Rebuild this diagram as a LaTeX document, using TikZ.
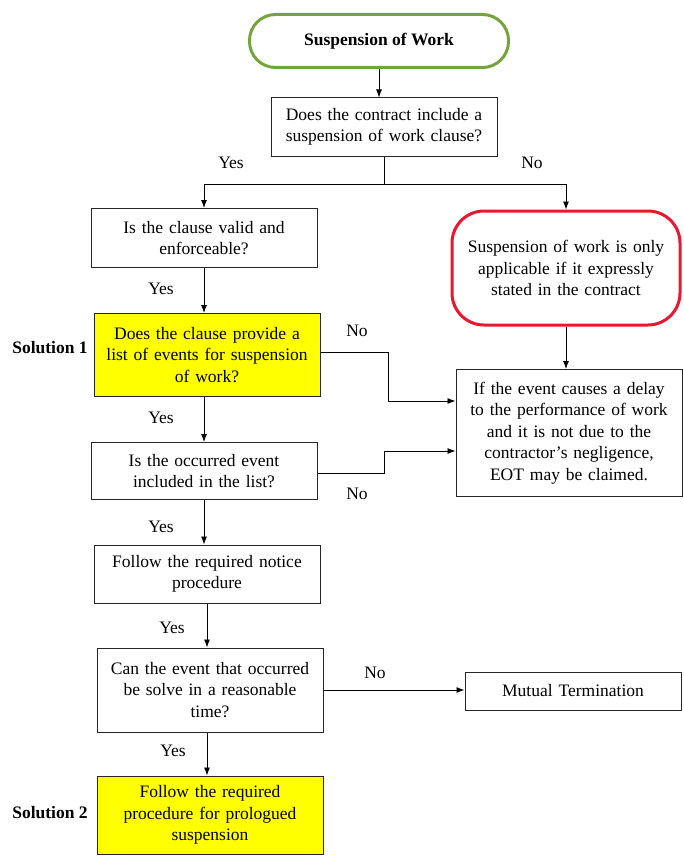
\documentclass[tikz,border=0pt]{standalone}
\usepackage{fontspec}
\setmainfont{Liberation Serif}
\usetikzlibrary{arrows.meta}

\definecolor{startgreen}{RGB}{118,163,60}
\definecolor{notered}{RGB}{232,24,48}
\definecolor{solyellow}{RGB}{255,255,0}

\tikzset{
  txt/.style={font=\fontsize{17.5}{21.5}\selectfont},
  procbox/.style={txt, draw=black!85, line width=1pt, align=center,
    text width=212pt, inner xsep=7pt, inner ysep=2pt, minimum height=#1},
  procbox/.default=58pt,
  solbox/.style={procbox=#1, fill=solyellow},
  startbox/.style={txt, font=\fontsize{17.5}{21.5}\selectfont\bfseries, draw=startgreen,
    line width=3pt, rounded corners=26pt, minimum width=259pt, minimum height=53pt},
  notebox/.style={txt, draw=notered, line width=3pt, rounded corners=32pt, align=center,
    text width=214pt, inner xsep=7pt, minimum height=114pt},
  lbl/.style={txt},
  sollbl/.style={txt, font=\fontsize{17.5}{21.5}\selectfont\bfseries},
  arr/.style={line width=0.9pt, -{Latex[length=8pt,width=6pt]}},
  ln/.style={line width=0.9pt}
}

\begin{document}
\begin{tikzpicture}[x=1pt,y=-1pt]
  \useasboundingbox (0,0) rectangle (683,856);

  % boxes
  \node[startbox] (start) at (379,41) {Suspension of Work};
  \node[procbox] (hasclause) at (384,127) {Does the contract include a\\suspension of work clause?};
  \node[procbox=59pt] (valid) at (204,238) {Is the clause valid and\\enforceable?};
  \node[notebox] (express) at (566,268) {Suspension of work is only\\applicable if it expressly\\stated in the contract};
  \node[solbox=83pt] (listev) at (207,355) {Does the clause provide a\\list of events for suspension\\of work?};
  \node[procbox=127pt] (eot) at (569,433) {If the event causes a delay\\to the performance of work\\and it is not due to the\\contractor's negligence,\\EOT may be claimed.};
  \node[procbox=57pt] (inlist) at (204,471) {Is the occurred event\\included in the list?};
  \node[procbox] (notice) at (207,574) {Follow the required notice\\procedure};
  \node[procbox=84pt] (solve) at (210,690) {Can the event that occurred\\be solve in a reasonable\\time?};
  \node[procbox=38pt, text width=202pt] (mutual) at (573,691) {Mutual Termination};
  \node[solbox=78pt] (prolong) at (210,815) {Follow the required\\procedure for prologued\\suspension};

  % side labels
  \node[sollbl] (sol1) at (50,348) {Solution 1};
  \node[sollbl] (sol2) at (50,813) {Solution 2};

  % connectors
  \coordinate (fork) at ([yshift=-28pt]hasclause.south);
  \draw[arr] (start.south) -- (start.south |- hasclause.north);
  \draw[ln] (hasclause.south) -- (fork);
  \draw[arr] (fork) -| (valid.north);
  \draw[arr] (fork) -| (express.north);
  \draw[arr] (valid.south) -- (valid.south |- listev.north);
  \draw[arr] (express.south) -- (express.south |- eot.north);
  \draw[arr] ([yshift=3pt]listev.east) -- ++(68,0) |- ([yshift=32pt]eot.west);
  \draw[arr] (listev.south -| valid.south) -- (valid.south |- inlist.north);
  \draw[arr] ([yshift=-2pt]inlist.east) -- ++(67,0) |- ([yshift=-18pt]eot.west);
  \draw[arr] (inlist.south) -- (inlist.south |- notice.north);
  \draw[arr] (notice.south) -- (notice.south |- solve.north);
  \draw[arr] (solve.east) -- (mutual.west |- solve.east);
  \draw[arr] (solve.south -| notice.south) -- (notice.south |- prolong.north);

  % yes / no labels
  \node[lbl] (y1) at (231,163) {Yes};
  \node[lbl] (n1) at (532,163) {No};
  \node[lbl] (y2) at (161,289) {Yes};
  \node[lbl] (n2) at (357,331) {No};
  \node[lbl] (y3) at (161,418) {Yes};
  \node[lbl] (n3) at (357,494) {No};
  \node[lbl] (y4) at (161,527) {Yes};
  \node[lbl] (y5) at (172,628) {Yes};
  \node[lbl] (n4) at (375,673) {No};
  \node[lbl] (y6) at (173,751) {Yes};
\end{tikzpicture}
\end{document}
